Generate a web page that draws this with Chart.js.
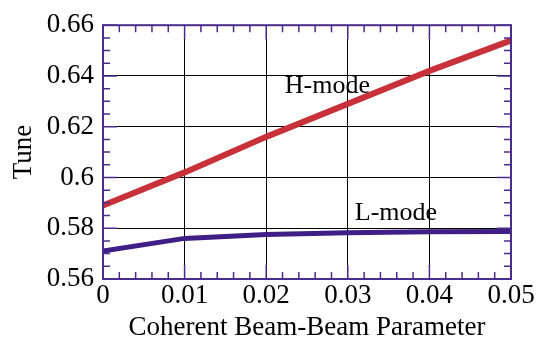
<!DOCTYPE html>
<html>
<head>
<meta charset="utf-8">
<script src="https://cdn.jsdelivr.net/npm/chart.js@4/dist/chart.umd.min.js"></script>
<style>
  html, body { margin: 0; padding: 0; background: #fff; }
  #wrap { width: 548px; height: 341px; }
</style>
</head>
<body>
<div id="wrap"><canvas id="tuneChart" width="548" height="341"></canvas></div>
<script>
const beamBeam = [0, 0.01, 0.02, 0.03, 0.04, 0.05];
const hModeTune = [0.589, 0.602, 0.616, 0.629, 0.642, 0.654];
const lModeTune = [0.571, 0.576, 0.5775, 0.5782, 0.5786, 0.5787];
const xTicks = [0, 0.01, 0.02, 0.03, 0.04, 0.05];
const yTicks = [0.56, 0.58, 0.6, 0.62, 0.64, 0.66];

const serif = "'Liberation Serif', 'DejaVu Serif', serif";
const frameColor = "#4a2c8c";

// purple frame with inside ticks on all four sides, plus the in-plot labels
const framePlugin = {
  id: "frame",
  afterDatasetsDraw(chart) {
    const { ctx, chartArea: a, scales: { x, y } } = chart;
    ctx.save();
    ctx.strokeStyle = frameColor;
    ctx.lineWidth = 1.5;
    ctx.beginPath();
    for (let i = 0; i <= 25; i++) {
      const px = x.getPixelForValue(i * 0.002);
      const len = i % 5 === 0 ? 14 : 7;
      ctx.moveTo(px, a.bottom); ctx.lineTo(px, a.bottom - len);
      ctx.moveTo(px, a.top); ctx.lineTo(px, a.top + len);
    }
    for (let i = 0; i <= 20; i++) {
      const py = y.getPixelForValue(0.56 + i * 0.005);
      const len = i % 4 === 0 ? 14 : 7;
      ctx.moveTo(a.left, py); ctx.lineTo(a.left + len, py);
      ctx.moveTo(a.right, py); ctx.lineTo(a.right - len, py);
    }
    ctx.stroke();
    ctx.lineWidth = 2;
    ctx.strokeRect(a.left, a.top, a.right - a.left, a.bottom - a.top);

    ctx.fillStyle = "#000";
    ctx.font = "26px " + serif;
    ctx.textAlign = "center";
    ctx.textBaseline = "middle";
    ctx.fillText("H-mode", x.getPixelForValue(0.0275), y.getPixelForValue(0.636));
    ctx.fillText("L-mode", x.getPixelForValue(0.0359), y.getPixelForValue(0.5859));
    ctx.restore();
  }
};

new Chart(document.getElementById("tuneChart").getContext("2d"), {
  type: "line",
  data: {
    labels: beamBeam,
    datasets: [
      { label: "H-mode", data: beamBeam.map((b, i) => ({ x: b, y: hModeTune[i] })), borderColor: "#c8313a", borderWidth: 6, pointRadius: 0, tension: 0 },
      { label: "L-mode", data: beamBeam.map((b, i) => ({ x: b, y: lModeTune[i] })), borderColor: "#3f1f85", borderWidth: 5, pointRadius: 0, tension: 0 }
    ]
  },
  options: {
    responsive: false,
    animation: false,
    layout: { padding: { top: 24, right: 37, left: 0, bottom: 0 } },
    plugins: { legend: { display: false }, tooltip: { enabled: false } },
    scales: {
      x: {
        type: "linear", min: 0, max: 0.05,
        afterBuildTicks: s => { s.ticks = xTicks.map(v => ({ value: v })); },
        afterFit: s => { s.height = 62; },
        grid: { color: "#000", lineWidth: 1, drawTicks: false },
        border: { display: false },
        ticks: { color: "#000", font: { family: serif, size: 27 }, padding: 1, maxRotation: 0, callback: v => String(v) },
        title: { display: true, text: "Coherent Beam-Beam Parameter", color: "#000", font: { family: serif, size: 27, lineHeight: 1.0 }, padding: { top: 0, bottom: 0 } }
      },
      y: {
        type: "linear", min: 0.56, max: 0.66,
        afterBuildTicks: s => { s.ticks = yTicks.map(v => ({ value: v })); },
        afterFit: s => { s.width = 103; },
        grid: { color: "#000", lineWidth: 1, drawTicks: false },
        border: { display: false },
        ticks: { color: "#000", font: { family: serif, size: 27 }, padding: 9, callback: v => String(v) },
        title: { display: true, text: "Tune", color: "#000", font: { family: serif, size: 27 }, padding: { top: 8, bottom: 0 } }
      }
    }
  },
  plugins: [framePlugin]
});
</script>
</body>
</html>
